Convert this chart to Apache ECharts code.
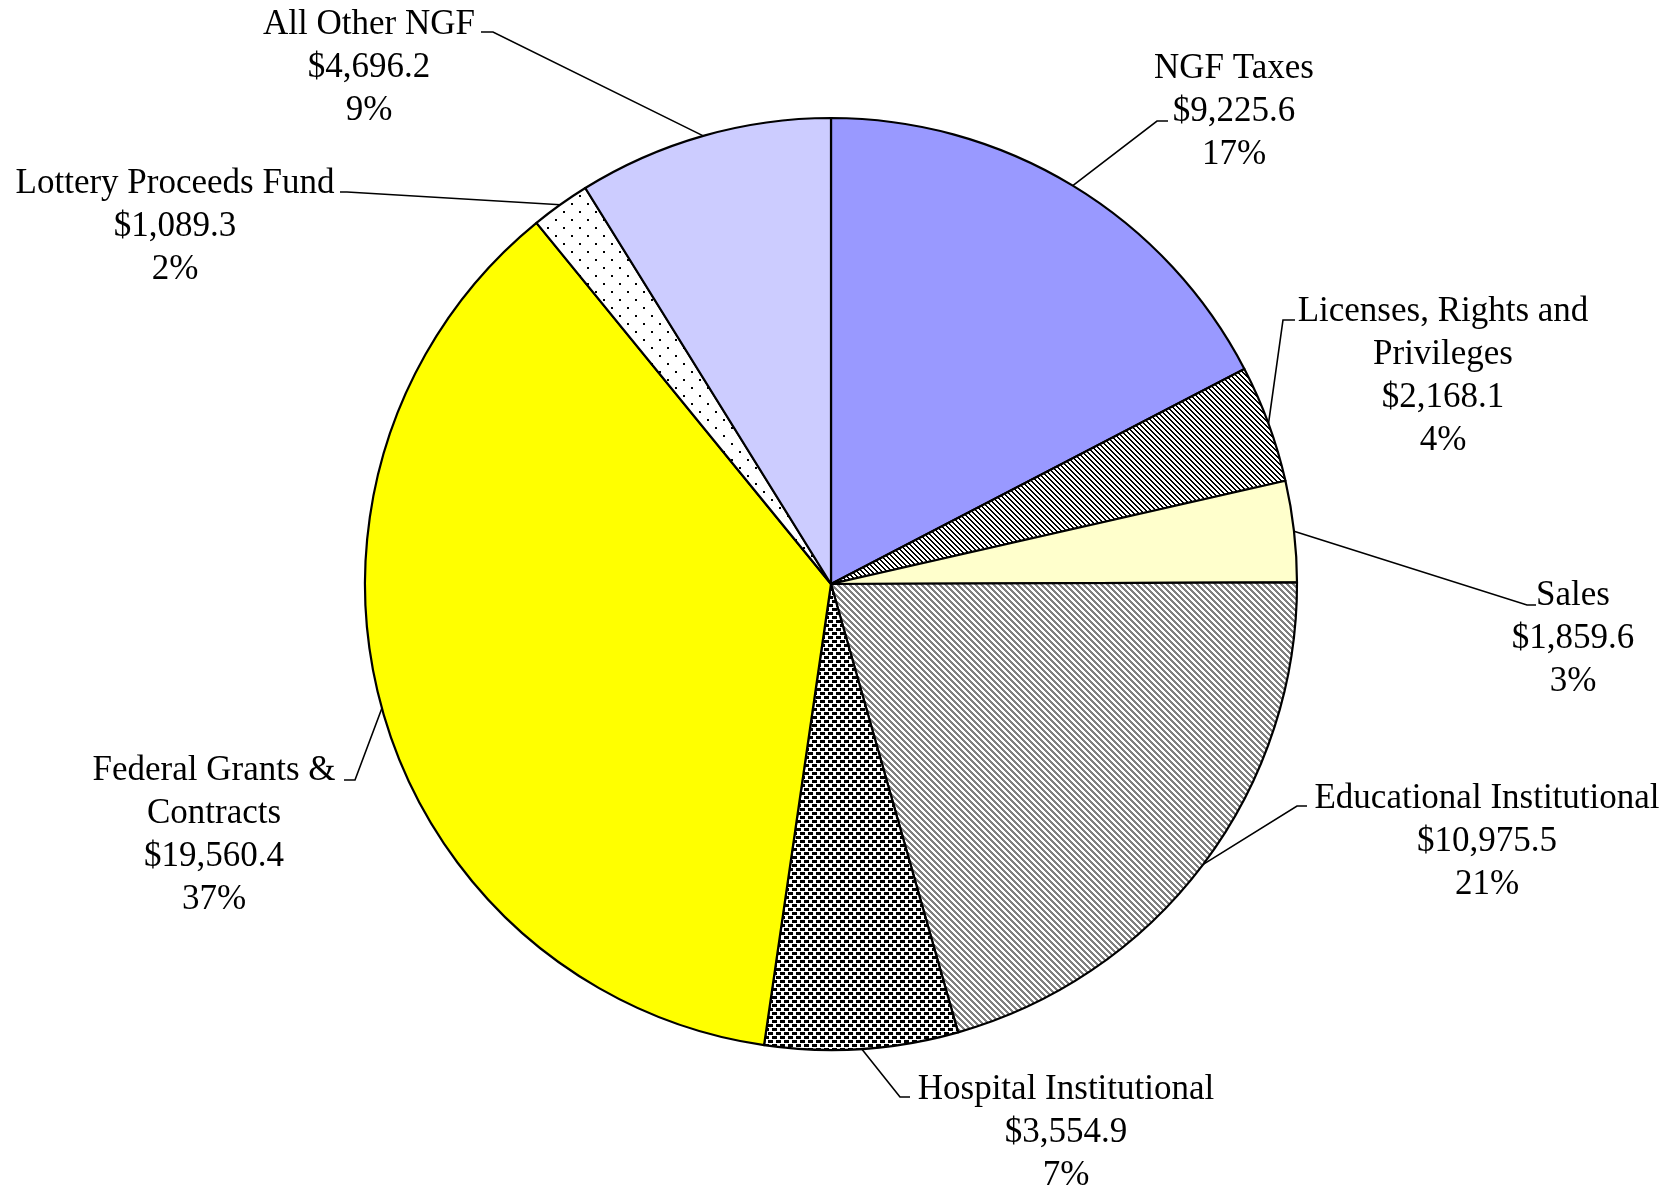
<!DOCTYPE html>
<html>
<head>
<meta charset="utf-8">
<script src="https://cdn.jsdelivr.net/npm/echarts@6/dist/echarts.min.js"></script>
<style>
html,body{margin:0;padding:0;background:#fff;}
#chart{width:1675px;height:1189px;}
</style>
</head>
<body>
<div id="chart"></div>
<script>
// ---- data ----
const categories = [
  'NGF Taxes',
  'Licenses, Rights and\nPrivileges',
  'Sales',
  'Educational Institutional',
  'Hospital Institutional',
  'Federal Grants &\nContracts',
  'Lottery Proceeds Fund',
  'All Other NGF'
];
const values = [9225.6, 2168.1, 1859.6, 10975.5, 3554.9, 19560.4, 1089.3, 4696.2];

// ---- layout (label block centres, leader elbows and ends) ----
const labelPos = [[1234,112],[1443,376],[1573,639],[1487,842],[1066,1133],[214,835],[175,227],[369,68]];
const elbows   = [[1157,121],[1283,320],[1527,605],[1297,806],[900,1097],[355,780],[347,192],[493,32]];
const ends     = [[1168,121],[1295,320],[1536,605],[1307,806],[910,1097],[344,780],[340,192],[481,32]];

// ---- patterns ----
function makeTile(w, h, draw) {
  const c = document.createElement('canvas');
  c.width = w; c.height = h;
  const g = c.getContext('2d');
  g.fillStyle = '#fff'; g.fillRect(0, 0, w, h);
  draw(g);
  return { image: c, repeat: 'repeat' };
}
const diagDark = makeTile(5, 5, g => {
  g.fillStyle = '#000';
  for (let y = 0; y < 5; y++) for (let x = 0; x < 5; x++)
    if (((x - y) % 5 + 5) % 5 < 2) g.fillRect(x, y, 1, 1);
});
const diagGray = makeTile(6, 6, g => {
  g.fillStyle = '#808080';
  for (let y = 0; y < 6; y++) for (let x = 0; x < 6; x++)
    if (((x - y) % 6 + 6) % 6 < 3) g.fillRect(x, y, 1, 1);
});
const confetti = makeTile(8, 8, g => {
  g.fillStyle = '#000';
  g.fillRect(0, 0, 5, 3);
  g.fillRect(4, 4, 4, 3);
  g.fillRect(0, 4, 1, 3);
});
const dots = makeTile(16, 16, g => {
  g.fillStyle = '#000';
  g.fillRect(3, 3, 2, 2);
  g.fillRect(11, 11, 2, 2);
});
const fills = ['#9999FF', diagDark, '#FFFFCC', diagGray, confetti, '#FFFF00', dots, '#CCCCFF'];

const fmt = v => v.toLocaleString('en-US', {minimumFractionDigits: 1, maximumFractionDigits: 1});

const chart = echarts.init(document.getElementById('chart'), null, {renderer: 'canvas'});
chart.setOption({
  backgroundColor: '#fff',
  animation: false,
  series: [{
    type: 'pie',
    center: [831, 584],
    radius: 466,
    startAngle: 90,
    clockwise: true,
    percentPrecision: 0,
    avoidLabelOverlap: false,
    data: categories.map((n, i) => ({
      name: n, value: values[i],
      itemStyle: { color: fills[i] }
    })),
    itemStyle: { borderColor: '#000', borderWidth: 2.2 },
    label: {
      show: true,
      position: 'outside',
      fontFamily: 'Liberation Serif',
      fontSize: 35,
      lineHeight: 43,
      color: '#000',
      align: 'center',
      formatter: p => p.name + '\n$' + fmt(p.value) + '\n' + p.percent + '%'
    },
    labelLine: {
      show: true,
      lineStyle: { color: '#000', width: 1.6 }
    },
    labelLayout: function (params) {
      const i = params.dataIndex;
      const start = params.labelLinePoints ? params.labelLinePoints[0] : elbows[i];
      return {
        x: labelPos[i][0],
        y: labelPos[i][1],
        align: 'center',
        verticalAlign: 'middle',
        labelLinePoints: [start, elbows[i], ends[i]]
      };
    },
    emphasis: { disabled: true }
  }]
});
</script>
</body>
</html>
